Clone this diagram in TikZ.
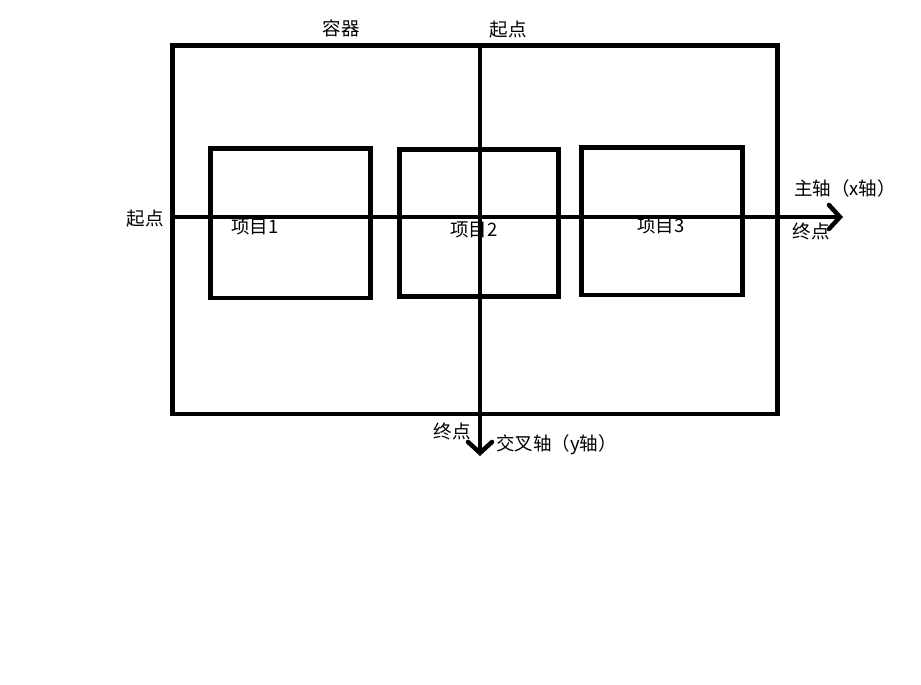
\documentclass[tikz,border=0pt]{standalone}
\usepackage{fontspec}
\newfontfamily\cjk{Noto Sans CJK SC}
\usetikzlibrary{arrows.meta}
\tikzset{
  frame/.style={draw=black, line width=4.5pt, rectangle, inner sep=0pt, outer sep=0pt},
  axis/.style={draw=black, line width=4.5pt, -{Straight Barb[length=11pt,width=24pt,line cap=round]}},
  lbl/.style={inner sep=0pt, font=\cjk\fontsize{18.5}{22}\selectfont, text=black}
}
\begin{document}
\begin{tikzpicture}[x=1pt,y=-1pt]
\useasboundingbox (0,0) rectangle (921,685);
\fill[white] (0,0) rectangle (921,685);
% container and items
\node[frame, minimum width=605pt, minimum height=368.5pt] (cont) at (475,229.75) {};
\node[frame, minimum width=160pt, minimum height=149.5pt] (it1) at (290.5,223.25) {};
\node[frame, minimum width=158.6pt, minimum height=147pt] (it2) at (479,223.2) {};
\node[frame, minimum width=160.6pt, minimum height=147.5pt] (it3) at (662,221.25) {};
% axes
\coordinate (hs) at (172.5,217);
\coordinate (he) at (843,217);
\coordinate (vs) at (480,45.5);
\coordinate (ve) at (480,456);
\draw[axis] (hs) -- (he);
\draw[axis] (vs) -- (ve);
% labels
\node[lbl] (tcont) at (341,28) {容器};
\node[lbl] (tstart1) at (508,30) {起点};
\node[lbl] (tstart2) at (145,219) {起点};
\node[lbl] (tit1) at (255,227) {项目1};
\node[lbl] (tit2) at (474,230) {项目2};
\node[lbl] (tit3) at (661,225.5) {项目3};
\node[lbl, anchor=west] (tmain) at (794,188) {主轴（x轴）};
\node[lbl] (tend1) at (811,231) {终点};
\node[lbl] (tend2) at (452,431) {终点};
\node[lbl, anchor=west] (tcross) at (496,445) {交叉轴（y轴）};
\end{tikzpicture}
\end{document}
